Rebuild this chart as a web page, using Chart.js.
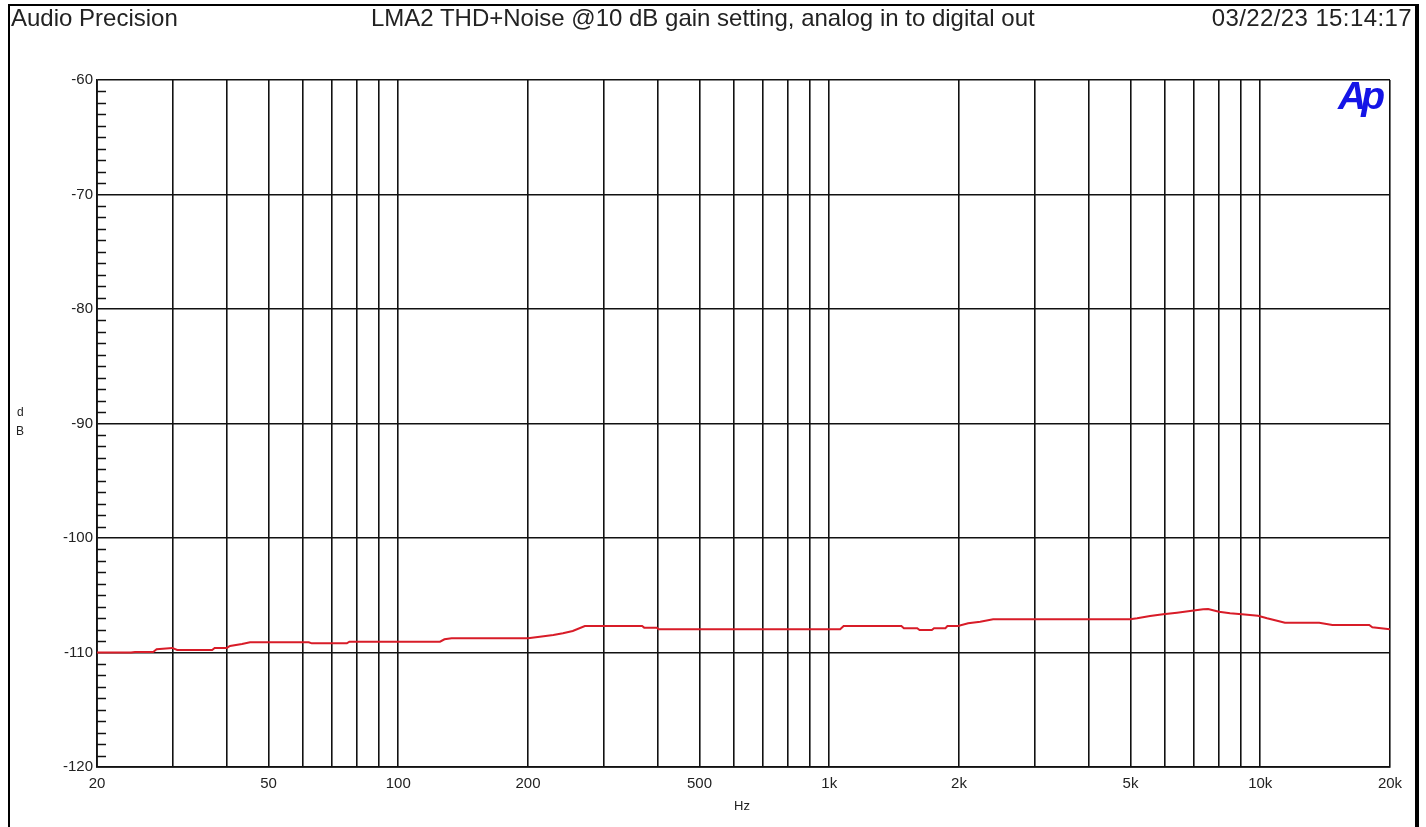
<!DOCTYPE html>
<html lang="en">
  <head>
    <meta charset="UTF-8" />
    <title>LMA2 THD+Noise</title>
    <script src="https://cdn.jsdelivr.net/npm/chart.js"></script>
    <style>
      body {
        margin: 0;
        background: #fff;
        font-family: "Liberation Sans", Arial, sans-serif;
        color: #222;
      }
      .page {
        position: relative;
        width: 1426px;
        height: 827px;
        overflow: hidden;
      }
      .frame {
        position: absolute;
        left: 8px;
        top: 4px;
        width: 1405px;
        height: 900px;
        border-left: 2px solid #000;
        border-top: 2px solid #000;
        border-right: 4px solid #000;
      }
      .txt {
        position: absolute;
        white-space: nowrap;
      }
      .head {
        top: 4px;
        font-size: 24px;
      }
      .logo {
        left: 1338px;
        top: 74px;
        font-size: 39px;
        font-weight: bold;
        font-style: italic;
        letter-spacing: -5px;
        color: #1414e6;
      }
      .unit {
        font-size: 12px;
        color: #222;
      }
      canvas {
        position: absolute;
        left: 0;
        top: 0;
      }
    </style>
  </head>
  <body>
    <div class="page">
      <canvas id="thdChart" width="1426" height="827"></canvas>
      <div class="frame"></div>
      <div class="txt head" style="left: 11px">Audio Precision</div>
      <div class="txt head" style="left: 371px">
        LMA2 THD+Noise @10 dB gain setting, analog in to digital out
      </div>
      <div class="txt head" style="right: 14px; letter-spacing: 0.4px">03/22/23 15:14:17</div>
      <div class="txt logo">Ap</div>
      <div class="txt unit" style="left: 17px; top: 405px">d</div>
      <div class="txt unit" style="left: 16px; top: 424px">B</div>
      <div class="txt unit" style="left: 734px; top: 798px; font-size: 13px">Hz</div>
    </div>

    <script>
      // measured sweep, Hz
      const freqs = [
        20, 24, 24.5, 27, 27.5, 29.9, 30.7, 37, 37.5, 40, 40.7, 43.4, 45.3,
        62, 63, 76, 77, 125, 128, 133, 200, 213, 229, 241, 254, 271, 368,
        372, 398, 402, 1060, 1080, 1470, 1490, 1600, 1620, 1730, 1750, 1860,
        1880, 1990, 2100, 2240, 2400, 4990, 5180, 5550, 5950, 6410, 6870,
        7370, 7570, 8020, 8510, 9070, 9880, 10370, 10940, 11410, 13700,
        14700, 17900, 18200, 20000,
      ];
      // THD+N, dB
      const thdn = [
        -110.0, -110.0, -109.95, -109.95, -109.72, -109.6, -109.78, -109.78,
        -109.6, -109.6, -109.43, -109.26, -109.1, -109.1, -109.2, -109.2,
        -109.06, -109.06, -108.85, -108.76, -108.76, -108.62, -108.47,
        -108.32, -108.12, -107.69, -107.69, -107.83, -107.83, -107.97,
        -107.97, -107.69, -107.69, -107.88, -107.88, -108.03, -108.03,
        -107.88, -107.88, -107.69, -107.69, -107.45, -107.31, -107.1,
        -107.1, -107.01, -106.81, -106.66, -106.52, -106.38, -106.23,
        -106.2, -106.44, -106.58, -106.66, -106.79, -107.01, -107.22, -107.4,
        -107.4, -107.6, -107.6, -107.8, -107.97,
      ];

      // vertical grid lines and their labels
      const xGrid = [
        20, 30, 40, 50, 60, 70, 80, 90, 100, 200, 300, 400, 500, 600, 700,
        800, 900, 1000, 2000, 3000, 4000, 5000, 6000, 7000, 8000, 9000,
        10000, 20000,
      ];
      const xLabels = [
        "20", "", "", "50", "", "", "", "", "100", "200", "", "", "500", "",
        "", "", "", "1k", "2k", "", "", "5k", "", "", "", "", "10k", "20k",
      ];
      const yMin = -120;
      const yMax = -60;

      const labelFont = { family: "'Liberation Sans', Arial, sans-serif", size: 15 };
      const gridColor = "#111";

      // small 1 dB ticks on the inside of the left axis
      const minorTicks = {
        id: "minorTicks",
        afterDraw(chart) {
          const { ctx, chartArea } = chart;
          const y = chart.scales.y;
          ctx.save();
          ctx.strokeStyle = gridColor;
          ctx.lineWidth = 1.5;
          for (let v = yMin + 1; v < yMax; v++) {
            if (v % 10 === 0) continue;
            const py = Math.round(y.getPixelForValue(v)) + 0.5;
            ctx.beginPath();
            ctx.moveTo(chartArea.left, py);
            ctx.lineTo(chartArea.left + 9, py);
            ctx.stroke();
          }
          ctx.restore();
        },
      };

      new Chart(document.getElementById("thdChart"), {
        type: "line",
        data: {
          datasets: [
            {
              data: freqs.map((f, i) => ({ x: f, y: thdn[i] })),
              borderColor: "#d81c28",
              borderWidth: 2,
              pointRadius: 0,
              tension: 0,
            },
          ],
        },
        options: {
          responsive: false,
          animation: false,
          devicePixelRatio: 1,
          layout: { padding: { left: 0, top: 80, right: 36, bottom: 0 } },
          plugins: {
            legend: { display: false },
            tooltip: { enabled: false },
          },
          scales: {
            x: {
              type: "logarithmic",
              min: 20,
              max: 20000,
              afterBuildTicks: (s) => {
                s.ticks = xGrid.map((v) => ({ value: v }));
              },
              afterFit: (s) => {
                s.height = 60;
              },
              ticks: {
                autoSkip: false,
                maxRotation: 0,
                padding: 8,
                font: labelFont,
                color: "#222",
                callback: (v, i) => xLabels[i],
              },
              grid: { color: gridColor, lineWidth: 1.6, drawTicks: false },
              border: { color: gridColor, width: 1.8 },
            },
            y: {
              min: yMin,
              max: yMax,
              afterFit: (s) => {
                s.width = 97;
              },
              ticks: {
                stepSize: 10,
                padding: 4,
                font: labelFont,
                color: "#222",
              },
              grid: { color: gridColor, lineWidth: 1.6, drawTicks: false },
              border: { color: gridColor, width: 1.8 },
            },
          },
        },
        plugins: [minorTicks],
      });
    </script>
  </body>
</html>
